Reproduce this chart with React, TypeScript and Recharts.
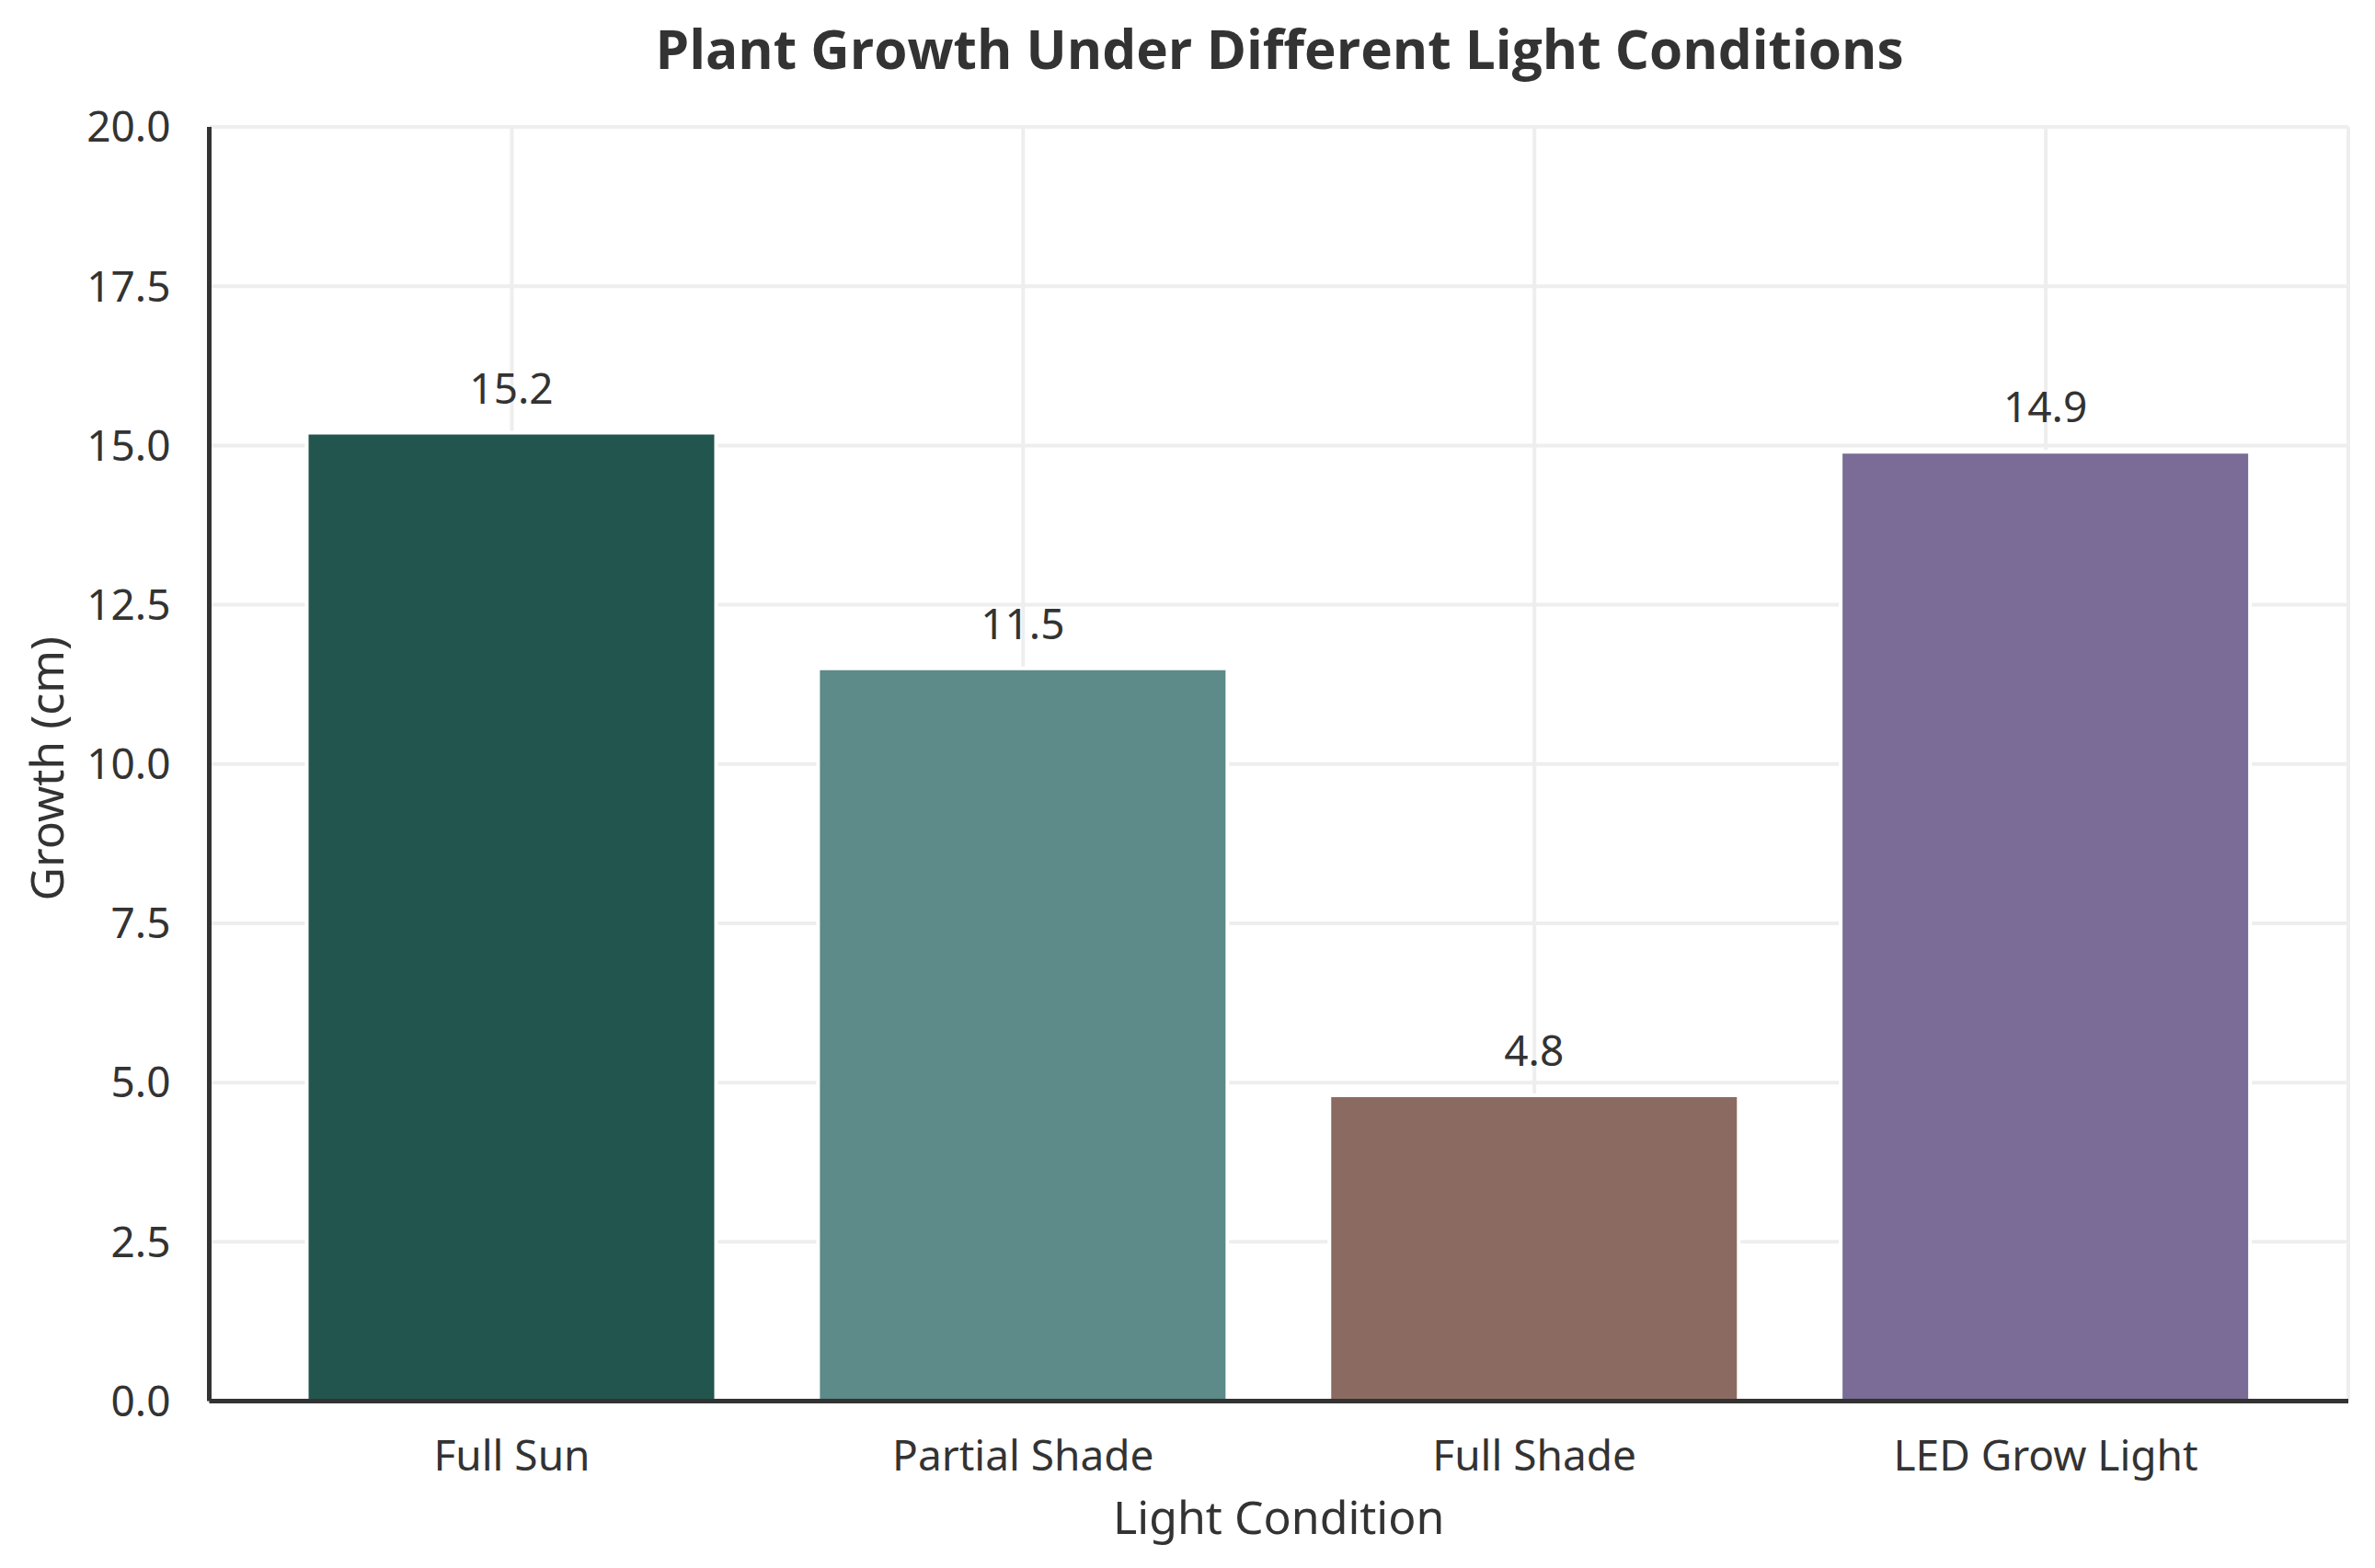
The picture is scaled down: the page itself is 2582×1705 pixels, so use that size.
import React from 'react';
import { BarChart, Bar, XAxis, YAxis, CartesianGrid, Cell, LabelList, Label } from 'recharts';

const categories = ['Full Sun', 'Partial Shade', 'Full Shade', 'LED Grow Light'];
const growthValues = [15.2, 11.5, 4.8, 14.9];
const barColors = ['#22554e', '#5c8b89', '#8b6b61', '#7a6c96'];
const yTicks = [0, 2.5, 5, 7.5, 10, 12.5, 15, 17.5, 20];

const data = categories.map((name, i) => ({ name, growth: growthValues[i] }));

const TEXT = '#333333';
const FONT = '"Noto Sans", "Open Sans", sans-serif';
const TITLE_FONT = '"Open Sans", "Noto Sans", sans-serif';

const YLabel = (props: any) => {
  const vb = props.viewBox || { x: 0, y: 138, width: 227.5, height: 1385.5 };
  const cx = vb.x + 51;
  const cy = vb.y + vb.height / 2 + 5;
  return (
    <text
      x={cx}
      y={cy}
      dy="0.357em"
      transform={`rotate(-90 ${cx} ${cy})`}
      textAnchor="middle"
      fontSize={50}
      fill={TEXT}
    >
      Growth (cm)
    </text>
  );
};

export default function App() {
  return (
    <div
      style={{
        position: 'absolute',
        left: 0,
        top: 0,
        width: 2582,
        height: 1705,
        background: '#ffffff',
        fontFamily: FONT,
      }}
    >
      <BarChart
        width={2582}
        height={1705}
        data={data}
        margin={{ top: 138, right: 29, bottom: 0, left: 0 }}
      >
        <CartesianGrid stroke="#eeeeee" strokeWidth={4} />
        <Bar dataKey="growth" barSize={445} stroke="#ffffff" strokeWidth={4} isAnimationActive={false}>
          {data.map((d, i) => (
            <Cell key={d.name} fill={barColors[i]} />
          ))}
          <LabelList
            dataKey="growth"
            position="top"
            offset={32}
            fill={TEXT}
            fontSize={46}
            formatter={(v: any) => Number(v).toFixed(1)}
          />
        </Bar>
        <XAxis
          dataKey="name"
          padding={{ left: 51, right: 51 }}
          height={181.5}
          axisLine={{ stroke: TEXT, strokeWidth: 5 }}
          tickLine={false}
          tickSize={0}
          tickMargin={42.5}
          tick={{ fill: TEXT, fontSize: 46 }}
          interval={0}
        >
          <Label value="Light Condition" position="insideBottom" offset={37} fill={TEXT} fontSize={50} />
        </XAxis>
        <YAxis
          type="number"
          domain={[0, 20]}
          ticks={yTicks}
          width={227.5}
          axisLine={{ stroke: TEXT, strokeWidth: 5 }}
          tickLine={false}
          tickSize={0}
          tickMargin={42}
          tick={{ fill: TEXT, fontSize: 46 }}
          tickFormatter={(v: number) => v.toFixed(1)}
          label={<YLabel />}
        />
      </BarChart>
      <svg
        width={2582}
        height={140}
        style={{ position: 'absolute', left: 0, top: 0, pointerEvents: 'none' }}
      >
        <text
          x={1391}
          y={75}
          textAnchor="middle"
          fontSize={58.5}
          fontWeight={700}
          fill={TEXT}
          fontFamily={TITLE_FONT}
        >
          Plant Growth Under Different Light Conditions
        </text>
      </svg>
    </div>
  );
}
